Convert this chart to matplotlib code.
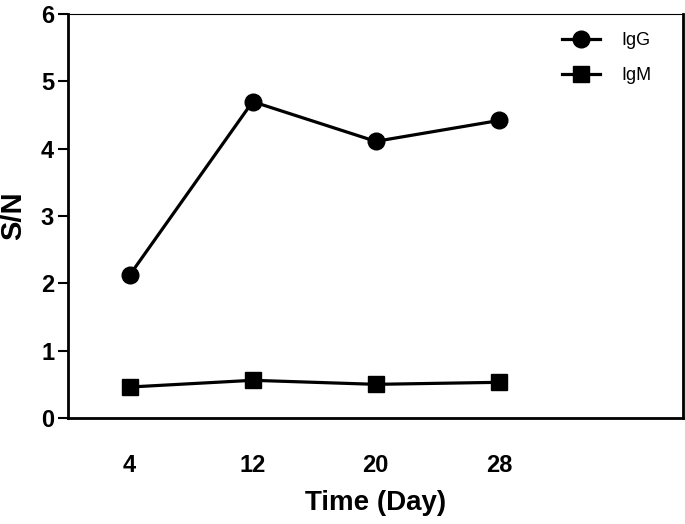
import matplotlib.pyplot as plt

days = [4, 12, 20, 28]
igg = [2.12, 4.70, 4.11, 4.42]
igm = [0.46, 0.56, 0.50, 0.53]
series_labels = ["IgG", "IgM"]
y_ticks = [0, 1, 2, 3, 4, 5, 6]

plt.rcParams["font.family"] = ["Liberation Sans", "DejaVu Sans"]


def main():
    fig = plt.figure(figsize=(6.85, 5.24), dpi=100)
    ax = fig.add_axes([0.0993, 0.2023, 0.8985, 0.7707])

    ax.plot(days, igg, color="black", lw=2.3, marker="o", ms=12, label=series_labels[0])
    ax.plot(days, igm, color="black", lw=2.3, marker="s", ms=11, label=series_labels[1])

    ax.set_xlim(0, 40)
    ax.set_ylim(0, 6)
    ax.set_yticks(y_ticks)
    ax.set_xticks(days)
    ax.set_xticklabels([str(d) for d in days])
    ax.set_xticks([4], minor=True)

    ax.tick_params(axis="x", which="major", length=0, pad=26, labelsize=17)
    ax.tick_params(axis="x", which="minor", length=7, width=1.5, direction="out", pad=0)
    ax.tick_params(axis="y", length=7, width=1.5, direction="out", labelsize=17, pad=3)
    for lab in ax.get_xticklabels() + ax.get_yticklabels():
        lab.set_fontweight("bold")

    for side in ["left", "bottom", "right"]:
        ax.spines[side].set_linewidth(2.0)
    ax.spines["top"].set_linewidth(0.8)

    ax.set_xlabel("Time (Day)", fontsize=20, fontweight="bold", labelpad=9)
    ax.set_ylabel("S/N", fontsize=21, fontweight="bold", labelpad=10)

    ax.legend(loc="upper right", frameon=False, fontsize=13, handlelength=2.1,
              labelspacing=1.0, handletextpad=1.2, bbox_to_anchor=(0.975, 0.995))

    fig.savefig("out.png", dpi=100, facecolor="white")
    plt.close(fig)


if __name__ == "__main__":
    main()
